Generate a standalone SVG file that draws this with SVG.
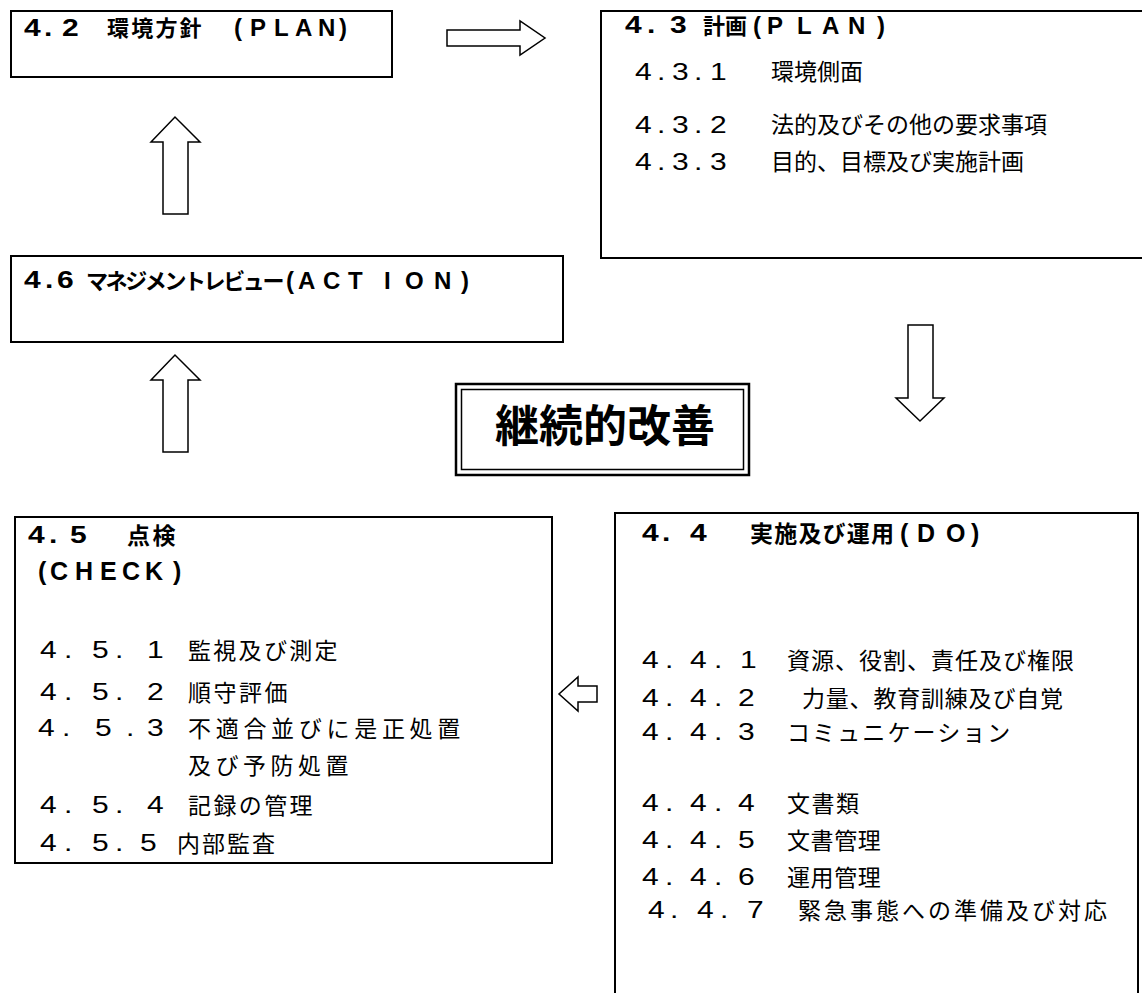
<svg xmlns="http://www.w3.org/2000/svg" width="1142" height="993" viewBox="0 0 1142 993">
<style>
text{font-family:"Noto Sans CJK JP","Noto Sans",sans-serif;fill:#000}
.hb{font-weight:bold;font-size:22px}
.hb23{font-weight:bold;font-size:23px}
.b{font-size:23px}
.n{font-family:"Liberation Sans",Arial,sans-serif;font-size:24px}
.nb{font-family:"Liberation Sans",Arial,sans-serif;font-size:24px;font-weight:bold}
.nb25{font-family:"Liberation Sans",Arial,sans-serif;font-size:25px;font-weight:bold}
.box{fill:#fff;stroke:#000;stroke-width:2}
.arr{fill:#fff;stroke:#000;stroke-width:1.5;stroke-linejoin:miter}
</style>
<rect width="1142" height="993" fill="#fff"/>
<g id="connectors">
<polygon class="arr" points="447,30 520,30 520,21 545,38 520,55 520,46 447,46"/>
<polygon class="arr" points="163,214 163,142 151,142 175,117 200,142 188,142 188,214"/>
<polygon class="arr" points="163,452 163,380 151,380 175,355 200,380 188,380 188,452"/>
<polygon class="arr" points="908,325 933,325 933,398 944,398 920,421 896,398 908,398"/>
<polygon class="arr" points="597,686 578,686 578,677 559,694 578,711 578,702 597,702"/>
</g>
<g id="node-42">
<rect class="box" x="11" y="11" width="381" height="66"/>
<text class="nb" transform="scale(1.25,1)" x="19.2 35.2 49.6" y="36">4.2</text>
<text class="hb" x="107" y="36" letter-spacing="2.2">環境方針</text>
<text class="nb" x="234 250 274 295 318 339" y="36">(PLAN)</text>
</g>
<g id="node-43">
<rect class="box" x="601" y="11" width="580" height="247" stroke-width="2.5"/>
<text class="nb" transform="scale(1.25,1)" x="500 517.6 536" y="33.5">4.3</text>
<text class="hb" x="703" y="33.5">計画</text>
<text class="nb" x="753 767 797 822 848 877" y="33.5">(PLAN)</text>
<g transform="scale(1.25,1)">
<text class="n" x="508 525.6 537.6 555.2 568" y="80">4.3.1</text>
<text class="n" x="508 525.6 537.6 555.2 568" y="133">4.3.2</text>
<text class="n" x="508 525.6 537.6 555.2 568" y="170">4.3.3</text>
</g>
<text class="b" x="771" y="80">環境側面</text>
<text class="b" x="771" y="133">法的及びその他の要求事項</text>
<text class="b" x="771" y="170">目的、目標及び実施計画</text>
</g>
<g id="node-46">
<rect class="box" x="11" y="256" width="552" height="86"/>
<text class="nb" transform="scale(1.25,1)" x="19.2 36 45.6" y="288.5">4.6</text>
<text class="hb" x="86" y="288.5" letter-spacing="-2.4">マネジメントレビュー</text>
<text class="nb" x="286 298 323 348 384 405 434 461" y="288.5">(ACTION)</text>
</g>
<g id="node-kaizen">
<rect x="456" y="384" width="293" height="91" fill="#fff" stroke="#000" stroke-width="2.5"/>
<rect x="461.5" y="389.5" width="282" height="80" fill="none" stroke="#000" stroke-width="1.5"/>
<text x="605" y="442" text-anchor="middle" font-size="44" font-weight="bold">継続的改善</text>
</g>
<g id="node-45">
<rect class="box" x="15" y="517" width="537" height="346"/>
<text class="nb" transform="scale(1.25,1)" x="22.4 39.2 56" y="543.5">4.5</text>
<text class="hb23" x="127" y="543.5" letter-spacing="2.5">点検</text>
<text class="nb25" x="38 50 75 100 122 145 173" y="580">(CHECK)</text>
<g transform="scale(1.25,1)">
<text class="n" x="32 51.2 73.6 92 117.6" y="658.5">4.5.1</text>
<text class="n" x="32 51.2 73.6 92 117.6" y="700.5">4.5.2</text>
<text class="n" x="30.4 49.6 76 100.8 117.6" y="736.5">4.5.3</text>
<text class="n" x="32 51.2 73.6 92 117.6" y="813.5">4.5.4</text>
<text class="n" x="32 51.2 73.6 92 112" y="851.5">4.5.5</text>
</g>
<text class="b" x="188" y="658.5" letter-spacing="2.3">監視及び測定</text>
<text class="b" x="188" y="700.5" letter-spacing="2.5">順守評価</text>
<text class="b" x="188" y="736.5" letter-spacing="4.7">不適合並びに是正処置</text>
<text class="b" x="188" y="773.5" letter-spacing="4.5">及び予防処置</text>
<text class="b" x="188" y="813.5" letter-spacing="2.4">記録の管理</text>
<text class="b" x="177" y="851.5" letter-spacing="2">内部監査</text>
</g>
<g id="node-44">
<rect class="box" x="615" y="513" width="523" height="500"/>
<text class="nb" transform="scale(1.25,1)" x="513.6 529.6 552" y="541.5">4.4</text>
<text class="hb23" x="750" y="541.5" letter-spacing="1.2">実施及び運用</text>
<text class="nb25" x="900 917 946 971" y="541.5">(DO)</text>
<g transform="scale(1.25,1)">
<text class="n" x="513.6 532 552 571.2 592" y="668.5">4.4.1</text>
<text class="n" x="513.6 532 552 571.2 590.4" y="706.5">4.4.2</text>
<text class="n" x="513.6 532 552 571.2 590.4" y="740.5">4.4.3</text>
<text class="n" x="513.6 532 552 571.2 590.4" y="811.5">4.4.4</text>
<text class="n" x="513.6 532 552 571.2 590.4" y="848.5">4.4.5</text>
<text class="n" x="513.6 532 552 571.2 590.4" y="885.5">4.4.6</text>
<text class="n" x="518.4 536 557.6 576 597.6" y="918.5">4.4.7</text>
</g>
<text class="b" x="787" y="668.5" letter-spacing="1">資源、役割、責任及び権限</text>
<text class="b" x="802" y="706.5" letter-spacing="0.8">力量、教育訓練及び自覚</text>
<text class="b" x="787" y="740.5" letter-spacing="2.1">コミュニケーション</text>
<text class="b" x="787" y="811.5" letter-spacing="1.5">文書類</text>
<text class="b" x="787" y="848.5" letter-spacing="0.6">文書管理</text>
<text class="b" x="787" y="885.5" letter-spacing="0.6">運用管理</text>
<text class="b" x="798" y="918.5" letter-spacing="3">緊急事態への準備及び対応</text>
</g>
</svg>
